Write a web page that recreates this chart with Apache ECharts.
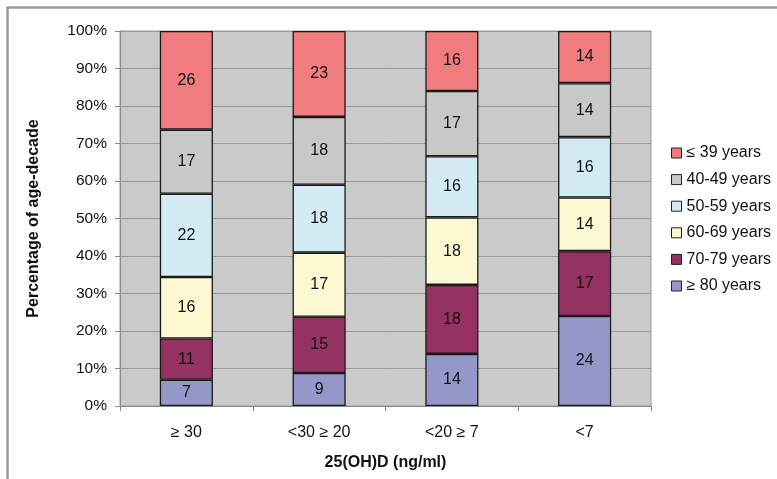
<!DOCTYPE html>
<html>
<head>
<meta charset="utf-8">
<script src="https://cdn.jsdelivr.net/npm/echarts@6/dist/echarts.min.js"></script>
<style>
html,body{margin:0;padding:0;background:#fff;}
#c{width:777px;height:479px;}
</style>
</head>
<body>
<div id="c"></div>
<script>
const categories = ['≥ 30', '<30 ≥ 20', '<20 ≥ 7', '<7'];
const yTicks = ['0%','10%','20%','30%','40%','50%','60%','70%','80%','90%','100%'];
// bottom to top
const age80 = [7.0, 8.8, 13.9, 24.0];
const age70 = [11.0, 15.0, 18.4, 17.3];
const age60 = [16.4, 17.1, 18.0, 14.3];
const age50 = [22.2, 18.1, 16.3, 16.1];
const age40 = [17.1, 18.1, 17.4, 14.4];
const age39 = [26.3, 22.9, 16.0, 13.9];
const seriesNames = ['≥ 80 years','70-79 years','60-69 years','50-59 years','40-49 years','≤ 39 years'];
const seriesData = [age80, age70, age60, age50, age40, age39];
const colors = ['#9697c9','#953262','#fbf8d2','#d3ebf3','#c8c8c8','#f07c7f'];

const font = 'Liberation Sans, Arial, sans-serif';
const chart = echarts.init(document.getElementById('c'), null, {renderer:'canvas'});
chart.setOption({
  animation:false,
  textStyle:{fontFamily:font},
  grid:{left:120, top:31, right:126, bottom:73, show:true, backgroundColor:'#cacaca', borderColor:'#9a9a9a', borderWidth:1},
  legend:{
    orient:'vertical', left:666, top:140,
    data: seriesNames.slice().reverse(),
    icon:'rect', itemWidth:10, itemHeight:10, itemGap:10.6,
    itemStyle:{borderColor:'#222', borderWidth:1},
    textStyle:{fontFamily:font, fontSize:16, color:'#111'}
  },
  xAxis:{
    type:'category', data:categories,
    axisLine:{lineStyle:{color:'#8a8a8a'}},
    axisTick:{show:true, length:5, lineStyle:{color:'#8a8a8a'}},
    axisLabel:{fontSize:16, color:'#111', margin:19, fontFamily:font},
    name:'25(OH)D (ng/ml)', nameLocation:'middle', nameGap:49,
    nameTextStyle:{fontSize:16, fontWeight:'bold', color:'#111', fontFamily:font}
  },
  yAxis:{
    type:'value', min:0, max:100, interval:10,
    axisLine:{show:true, lineStyle:{color:'#8a8a8a'}},
    axisTick:{show:true, length:5, lineStyle:{color:'#8a8a8a'}},
    axisLabel:{fontSize:15.5, color:'#111', margin:13, fontFamily:font,
      formatter:(v)=>yTicks[Math.round(v/10)]},
    splitLine:{lineStyle:{color:'#9a9a9a', width:1}},
    name:'Percentage of age-decade', nameLocation:'middle', nameGap:78,
    nameTextStyle:{fontSize:16, fontWeight:'bold', color:'#111', fontFamily:font}
  },
  series: seriesNames.map((n,i)=>({
    name:n, type:'bar', stack:'all', barWidth:'40%',
    data: seriesData[i],
    itemStyle:{color:colors[i], borderColor:'#1a1a1a', borderWidth:1.3},
    label:{show:true, position:'inside', fontSize:16, color:'#111', fontFamily:font,
      formatter:(p)=>String(Math.round(p.value))}
  })),
  graphic:[
    {type:'line', shape:{x1:7, y1:7.5, x2:777, y2:7.5}, style:{stroke:'#999', lineWidth:2.5}, silent:true},
    {type:'line', shape:{x1:7.5, y1:7, x2:7.5, y2:479}, style:{stroke:'#999', lineWidth:2.5}, silent:true}
  ]
});
</script>
</body>
</html>
